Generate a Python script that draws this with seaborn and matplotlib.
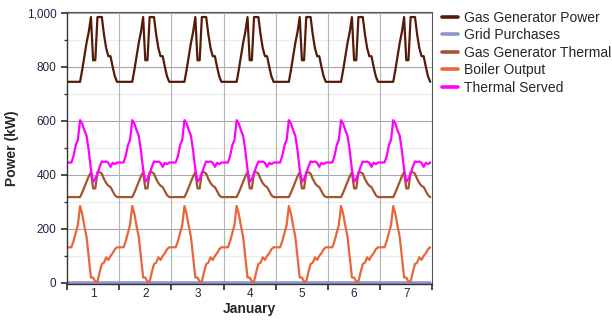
import numpy as np
import pandas as pd
import matplotlib
matplotlib.use("Agg")
import matplotlib.pyplot as plt
from matplotlib.ticker import FixedLocator, FuncFormatter, NullFormatter
import seaborn as sns

# hourly profile of one day (kW); the 7 days repeat it
days = [1, 2, 3, 4, 5, 6, 7]
gas_gen_power = [745, 745, 745, 745, 745, 745, 745, 790, 840, 890, 930, 985,
                 825, 825, 985, 985, 985, 920, 870, 840, 840, 800, 765, 745]
grid_purchases = [0] * 24
gas_gen_thermal = [318, 318, 318, 318, 318, 318, 318, 335, 355, 375, 395, 410,
                   350, 350, 410, 410, 405, 385, 370, 360, 355, 340, 325, 318]
boiler_output = [132, 132, 132, 155, 185, 215, 285, 255, 210, 170, 95, 20,
                 20, 5, 5, 40, 70, 75, 95, 85, 100, 110, 125, 132]
thermal_served = [446, 446, 446, 470, 510, 530, 603, 590, 565, 545, 490, 420,
                  375, 385, 405, 430, 450, 448, 450, 445, 430, 445, 440, 446]

series = {
    "Gas Generator Power": gas_gen_power,
    "Grid Purchases": grid_purchases,
    "Gas Generator Thermal": gas_gen_thermal,
    "Boiler Output": boiler_output,
    "Thermal Served": thermal_served,
}
colors = {
    "Gas Generator Power": "#561a08",
    "Grid Purchases": "#8e96c8",
    "Gas Generator Thermal": "#a4552c",
    "Boiler Output": "#e8663a",
    "Thermal Served": "#ff00ff",
}

rows = []
for name, prof in series.items():
    vals = np.tile(prof, len(days))
    for h, v in enumerate(vals):
        rows.append({"day": h / 24, "kW": v, "series": name})
df = pd.DataFrame(rows)

sns.set_theme(style="white")
plt.rcParams["font.family"] = ["Liberation Sans", "DejaVu Sans"]

fig = plt.figure(figsize=(6.12, 3.22), dpi=100)
ax = fig.add_axes([0.1095, 0.118, 0.597, 0.845])

ax.grid(False)
for y in range(100, 1000, 200):
    ax.axhline(y, color="#ececec", lw=0.8, zorder=0)
for y in range(200, 1001, 200):
    ax.axhline(y, color="#a8a8a8", lw=0.8, zorder=0)
for d in range(1, 7):
    ax.axvline(d, color="#b4b4b4", lw=0.8, zorder=0)

sns.lineplot(data=df, x="day", y="kW", hue="series", hue_order=list(series),
             palette=colors, linewidth=1.6, ax=ax)
for line in ax.lines:
    if line.get_color() == colors["Grid Purchases"]:
        line.set_linewidth(2.6)

ax.set_xlim(0, 7)
ax.set_ylim(-4, 1004)

ax.xaxis.set_major_locator(FixedLocator(range(0, 8)))
ax.xaxis.set_major_formatter(NullFormatter())
ax.xaxis.set_minor_locator(FixedLocator([d - 0.5 for d in days]))
ax.xaxis.set_minor_formatter(FuncFormatter(lambda v, p: str(int(round(v + 0.5)))))
ax.tick_params(axis="x", which="major", length=4, direction="out", bottom=True, color="#333333")
ax.tick_params(axis="x", which="minor", length=0, labelsize=8.5, pad=3, labelcolor="#222244")

ax.yaxis.set_major_locator(FixedLocator(range(0, 1001, 200)))
ax.yaxis.set_minor_locator(FixedLocator(range(100, 1000, 200)))
ax.yaxis.set_major_formatter(FuncFormatter(lambda v, p: f"{int(v):,}"))
ax.tick_params(axis="y", which="major", length=4, direction="out", left=True, labelsize=8.5,
               labelcolor="#222244", color="#333333")
ax.tick_params(axis="y", which="minor", length=2, direction="out", left=True, color="#333333")

for s in ["left", "bottom"]:
    ax.spines[s].set_color("#333333")
    ax.spines[s].set_linewidth(1.0)
for s in ["top", "right"]:
    ax.spines[s].set_color("#555555")
    ax.spines[s].set_linewidth(0.8)

ax.set_xlabel("January", fontsize=10, fontweight="bold", labelpad=1)
ax.set_ylabel("Power (kW)", fontsize=10, fontweight="bold", labelpad=6)

handles, labels = ax.get_legend_handles_labels()
for h in handles:
    h.set_linewidth(2.6)
ax.legend(handles, labels, loc="upper left", bbox_to_anchor=(1.012, 1.025), frameon=False,
          fontsize=10, handlelength=1.1, handletextpad=0.45, labelspacing=0.25,
          borderaxespad=0.0)

fig.savefig("out.png", dpi=100)
